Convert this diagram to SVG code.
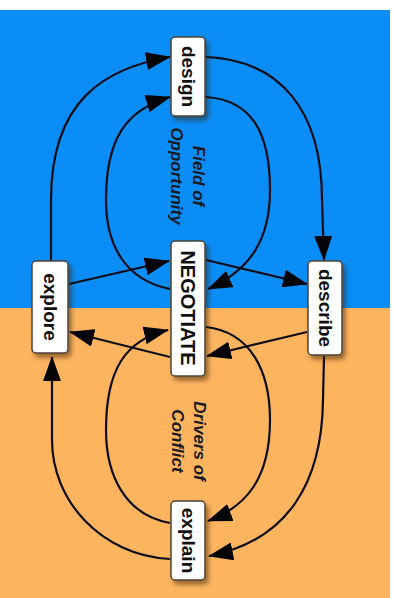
<svg xmlns="http://www.w3.org/2000/svg" width="394" height="598" viewBox="0 0 394 598">
<style>
.node rect{fill:#fff;stroke:#4e4336;stroke-width:1.5;filter:url(#sh)}
.node text{font-family:"Liberation Sans",Arial,sans-serif;font-weight:bold;fill:#111;text-anchor:middle;dominant-baseline:central}
.lbl{font-family:"Liberation Sans",Arial,sans-serif;font-weight:bold;font-style:italic;font-size:17px;fill:#1a1a22;text-anchor:middle;dominant-baseline:central}
#connectors path{fill:none;stroke:#0d0d18;stroke-width:2.2;marker-end:url(#ah)}
</style>
<defs>
<filter id="sh" x="-30%" y="-30%" width="160%" height="160%">
<feDropShadow dx="3" dy="4" stdDeviation="2" flood-color="#3a2000" flood-opacity="0.5"/>
</filter>
<marker id="ah" markerUnits="userSpaceOnUse" markerWidth="25" markerHeight="18" viewBox="0 0 25 18" refX="24" refY="9" orient="auto">
<path d="M0,0 L25,9 L0,18 z" fill="#050508"/>
</marker>
</defs>
<rect x="0" y="0" width="394" height="598" fill="#fff"/>
<rect x="0" y="10" width="390" height="298" fill="#0A8DF6"/>
<rect x="0" y="308" width="390" height="290" fill="#FDB45F"/>
<g id="labels">
<text class="lbl" transform="translate(198,176) rotate(90)">Field of</text>
<text class="lbl" transform="translate(176,176) rotate(90)">Opportunity</text>
<text class="lbl" transform="translate(199,441) rotate(90)">Drivers of</text>
<text class="lbl" transform="translate(177,441) rotate(90)">Conflict</text>
</g>
<g id="connectors">
<path d="M51,261 L51,200 C51,100 105,68 170,57"/>
<path d="M206,57 C280,60 322,110 322,200 L324,260"/>
<path d="M170,289 C125,280 106,245 106,200 C106,140 125,110 170,97"/>
<path d="M206,97 C250,100 270,130 270,190 C270,240 250,270 208,289"/>
<path d="M69,284 L169,261"/>
<path d="M206,260 L307,284"/>
<path d="M307,332 L207,356"/>
<path d="M170,357 L70,332"/>
<path d="M170,523 C125,515 106,475 106,430 C106,370 125,340 168,330"/>
<path d="M206,327 C250,332 270,370 270,420 C270,480 245,507 208,521"/>
<path d="M324,356 L323,400 C322,480 290,540 209,556"/>
<path d="M170,559 C100,555 52,500 52,440 L52,357"/>
</g>
<g id="design" class="node">
<rect x="171" y="37" width="34" height="79" rx="4"/>
<text transform="translate(188,76.5) rotate(90)" font-size="19">design</text>
</g>
<g id="negotiate" class="node">
<rect x="171" y="241" width="34" height="135" rx="4"/>
<text transform="translate(188,308) rotate(90)" font-size="20">NEGOTIATE</text>
</g>
<g id="explore" class="node">
<rect x="32" y="261" width="36" height="92" rx="4"/>
<text transform="translate(50,307) rotate(90)" font-size="19">explore</text>
</g>
<g id="describe" class="node">
<rect x="308" y="261" width="34" height="94" rx="4"/>
<text transform="translate(325,308) rotate(90)" font-size="19">describe</text>
</g>
<g id="explain" class="node">
<rect x="171" y="501" width="34" height="79" rx="4"/>
<text transform="translate(188,540.5) rotate(90)" font-size="19">explain</text>
</g>
</svg>
